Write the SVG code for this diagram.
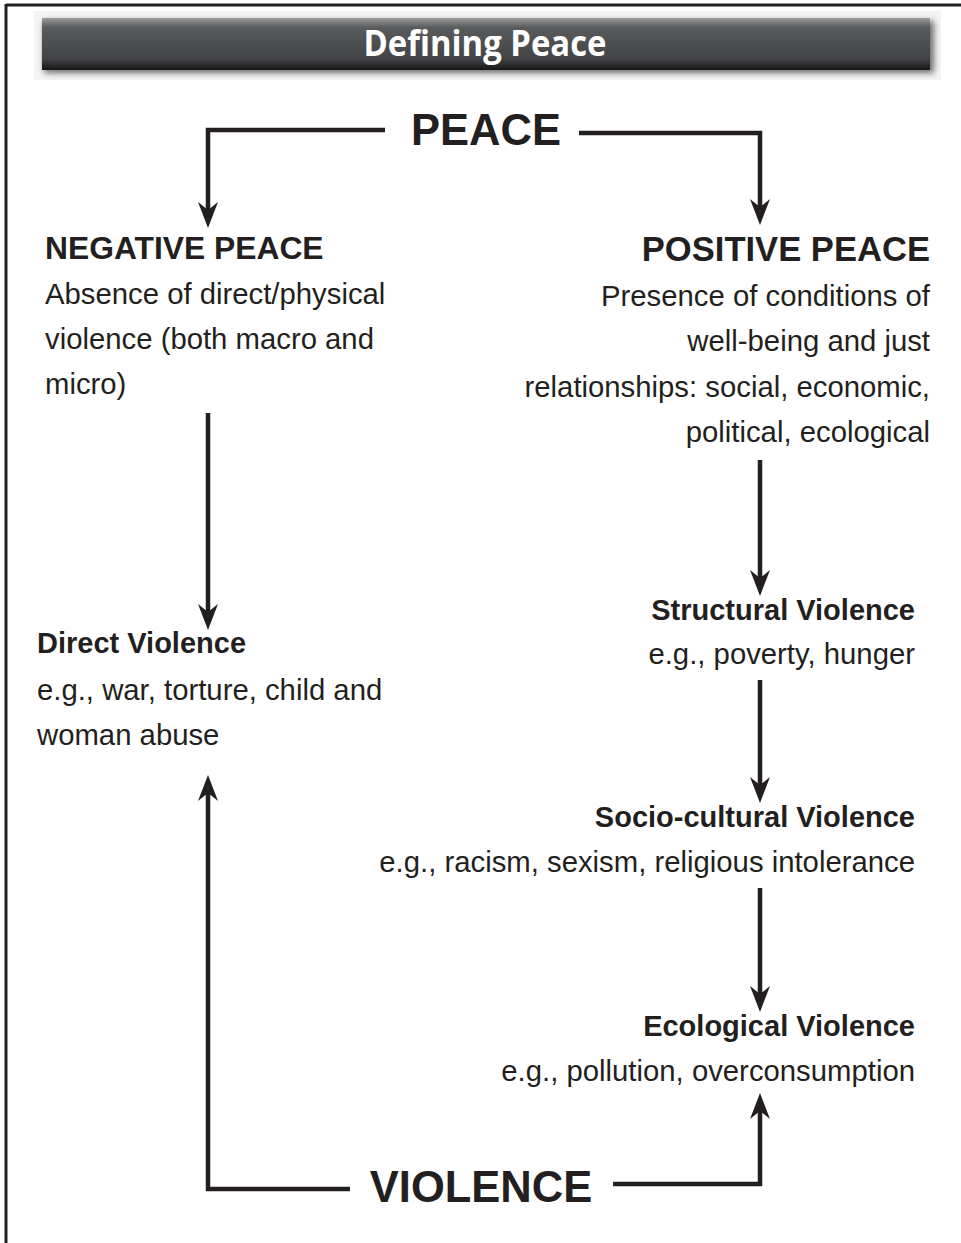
<svg xmlns="http://www.w3.org/2000/svg" width="961" height="1243" viewBox="0 0 961 1243">
<style>
.t{font-family:"Liberation Sans",Arial,sans-serif;fill:#231f20;}
.b{font-weight:bold;}
.body{font-size:29.3px;}
.lab{font-size:29px;font-weight:bold;}
.big{font-size:43.5px;font-weight:bold;}
.end{text-anchor:end;}
.conn{fill:none;stroke:#231f20;stroke-width:4.5;marker-end:url(#arr);}
</style>
<defs>
<marker id="arr" viewBox="0 0 26 20" refX="14" refY="10" markerWidth="26" markerHeight="20" markerUnits="userSpaceOnUse" orient="auto">
<path d="M26,10 L0,0 L8,10 L0,20 Z" fill="#231f20"/>
</marker>
<linearGradient id="bar" x1="0" y1="0" x2="0" y2="1">
<stop offset="0" stop-color="#9a9b9d"/>
<stop offset="0.18" stop-color="#5a5b5d"/>
<stop offset="0.5" stop-color="#4d4e50"/>
<stop offset="0.78" stop-color="#434446"/>
<stop offset="1" stop-color="#161616"/>
</linearGradient>
<filter id="blur" x="-5%" y="-30%" width="110%" height="160%"><feGaussianBlur stdDeviation="3"/></filter>
</defs>
<g id="frame">
<line x1="6" y1="5" x2="961" y2="5" stroke="#231f20" stroke-width="3"/>
<line x1="6" y1="4" x2="6" y2="1243" stroke="#231f20" stroke-width="3"/>
</g>
<g id="title">
<rect x="34" y="11" width="907" height="69" fill="#f4f4f4"/>
<rect x="44" y="21" width="890" height="52" fill="#000" opacity="0.55" filter="url(#blur)"/>
<rect x="42" y="18" width="888" height="52" fill="url(#bar)"/>
<text x="485" y="56" font-family="'Open Sans',sans-serif" font-weight="bold" font-size="35" fill="#ffffff" text-anchor="middle" textLength="243" lengthAdjust="spacingAndGlyphs">Defining Peace</text>
</g>
<g id="connectors">
<path class="conn" d="M385,130 H208 V216"/>
<path class="conn" d="M579,133 H760 V213"/>
<path class="conn" d="M208,413 V618"/>
<path class="conn" d="M760,460 V584"/>
<path class="conn" d="M760,680 V791"/>
<path class="conn" d="M760,888 V1000"/>
<path class="conn" d="M350,1189 H208 V787"/>
<path class="conn" d="M613,1184 H760 V1105"/>
</g>
<g id="peace"><text class="t big" x="486" y="145" text-anchor="middle">PEACE</text></g>
<g id="negative-peace">
<text class="t b" x="45" y="259" font-size="31.8">NEGATIVE PEACE</text>
<text class="t body" x="45" y="304">Absence of direct/physical</text>
<text class="t body" x="45" y="349">violence (both macro and</text>
<text class="t body" x="45" y="394">micro)</text>
</g>
<g id="positive-peace">
<text class="t b end" x="930" y="261" font-size="34.6">POSITIVE PEACE</text>
<text class="t body end" x="930" y="306">Presence of conditions of</text>
<text class="t body end" x="930" y="351">well-being and just</text>
<text class="t body end" x="930" y="397">relationships: social, economic,</text>
<text class="t body end" x="930" y="442">political, ecological</text>
</g>
<g id="direct-violence">
<text class="t lab" x="37" y="653">Direct Violence</text>
<text class="t body" x="37" y="700">e.g., war, torture, child and</text>
<text class="t body" x="37" y="745">woman abuse</text>
</g>
<g id="structural-violence">
<text class="t lab end" x="915" y="620">Structural Violence</text>
<text class="t body end" x="915" y="664">e.g., poverty, hunger</text>
</g>
<g id="socio-cultural-violence">
<text class="t lab end" x="915" y="827">Socio-cultural Violence</text>
<text class="t body end" x="915" y="872">e.g., racism, sexism, religious intolerance</text>
</g>
<g id="ecological-violence">
<text class="t lab end" x="915" y="1036">Ecological Violence</text>
<text class="t body end" x="915" y="1081">e.g., pollution, overconsumption</text>
</g>
<g id="violence"><text class="t big" x="481" y="1202" text-anchor="middle">VIOLENCE</text></g>
</svg>
